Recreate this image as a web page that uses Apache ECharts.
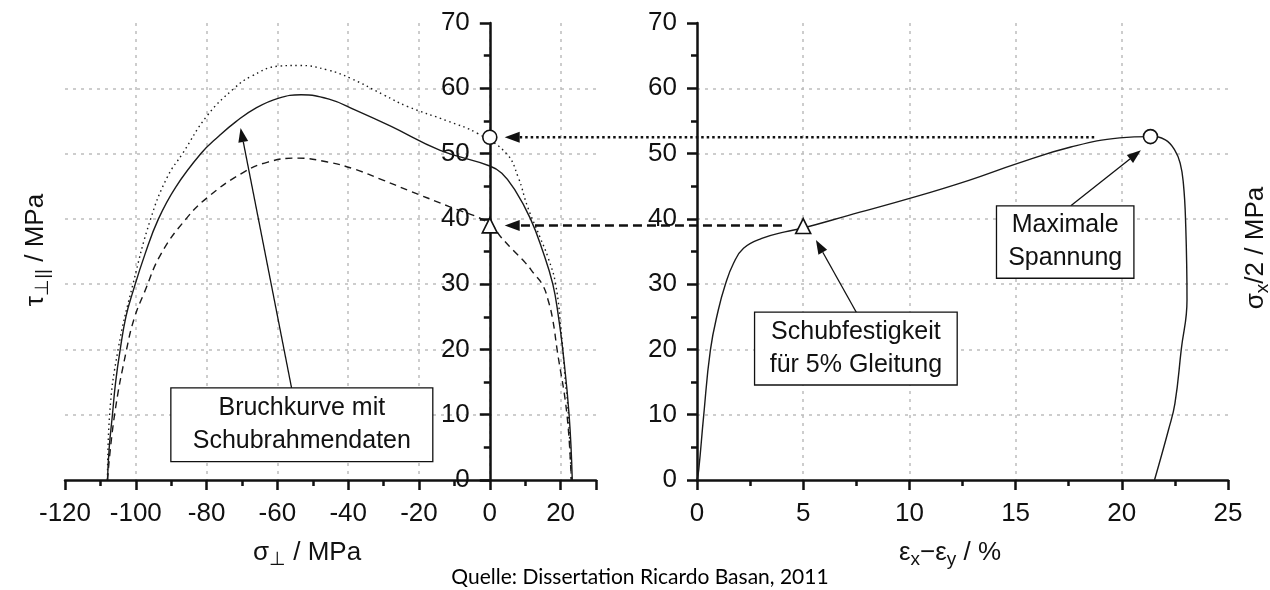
<!DOCTYPE html>
<html>
<head>
<meta charset="utf-8">
<script src="https://cdn.jsdelivr.net/npm/echarts@6/dist/echarts.min.js"></script>
<style>
  html, body { margin: 0; background: #fff; }
  #chart { width: 1270px; height: 590px; }
</style>
</head>
<body>
<div id="chart"></div>
<script>
// left panel: failure curves, [sigma_perp, tau] in MPa
const bruchSolid = [[-108,0],[-107.5,5],[-106.6,10],[-105.7,15],[-104.4,20],[-102.8,25],[-100.9,28.7],[-97.4,34.6],[-93.6,40],[-88.8,44.8],[-81.6,50],[-76.5,52.7],[-71.7,54.9],[-66,57],[-59.6,58.5],[-53.3,59],[-45.2,58.3],[-38.1,56.7],[-28,54.2],[-14,50.5],[0,48.1],[3.4,47],[7,44.5],[11.5,40],[15,35],[17.8,30],[19.4,25],[20.6,20],[22.4,10],[23.3,0]];
const bruchDotted = [[-108,0],[-107.4,10],[-105,20],[-100.8,30],[-95.8,40],[-91.1,46.4],[-86.8,50],[-79.7,55.9],[-72.2,60],[-67.5,61.8],[-59.5,63.4],[-53.8,63.5],[-45.8,62.8],[-39.2,61.5],[-30,59],[-23.2,57.2],[-12,55],[-3.5,53.1],[4.7,50],[8,46.4],[10.7,41.8],[14.1,37.3],[16.5,34],[18.6,30],[20.3,22],[21.2,16],[22.2,10],[23,0]];
const bruchDashed = [[-108,0],[-106,10],[-102.6,20],[-100.3,25],[-97.6,28.7],[-92.9,34.6],[-85.8,40],[-79.7,43.3],[-70.3,46.9],[-62.7,48.7],[-54.3,49.3],[-45.8,48.7],[-38.7,47.7],[-30,45.9],[-23.2,44.4],[-11.6,41.9],[0,39.3],[3,37.3],[6.6,35.2],[10,33.3],[12.5,31.6],[14.9,29.9],[16.5,27.5],[17.8,24.5],[19,20],[21.8,10],[23,0]];
// right panel: shear test curve, [eps_x - eps_y in %, sigma/2 in MPa]
const schubCurve = [[0,0],[0.08,1.5],[0.31,9.7],[0.63,19.9],[1.0,26],[1.33,29.9],[1.72,33.2],[2.19,35.5],[3.05,37],[4.14,38],[5,38.6],[7.1,40.5],[10.3,43.4],[12.8,45.9],[15.1,48.5],[17.6,51],[19.9,52.4],[21.35,52.6],[22.05,52.1],[22.5,50.5],[22.75,48.5],[22.9,45.4],[23,40],[23.07,27.6],[22.8,20],[22.5,11.7],[22.2,7.7],[21.54,0]];

const maxLeft = [0, 52.5], maxRight = [21.35, 52.6];
const g5Left = [0, 39], g5Right = [5, 38.9];

const leftX = { min: -120, max: 30, interval: 20 };
const rightX = { min: 0, max: 25, interval: 5 };
const yRange = { min: 0, max: 70, interval: 10 };

// annotation anchors (data coords)
const arrowMax = { from: [18.7, 52.5], to: [4.2, 52.5] };
const arrowG5 = { from: [4.0, 39], to: [4.2, 39] };
const noteBruch = { box: [[-90.1, 14.1], [-16.1, 2.8]], tail: [-56, 14.1], tip: [-70.4, 53.9], text: 'Bruchkurve mit\nSchubrahmendaten' };
const noteMax = { box: [[14.1, 42], [20.57, 30.9]], tail: [17.6, 42], tip: [20.9, 50.5], text: 'Maximale\nSpannung' };
const noteG5 = { box: [[2.71, 25.7], [12.25, 14.55]], tail: [7.5, 25.7], tip: [5.6, 36.75], text: 'Schubfestigkeit\nfür 5% Gleitung' };

const FONT = 'Liberation Sans';
const INK = '#111';
const GRID_W = 531;

function xAxisOf(grid, r) {
  return {
    type: 'value', gridIndex: grid, min: r.min, max: r.max, interval: r.interval,
    axisLine: { lineStyle: { color: INK, width: 2.5 } },
    axisTick: { length: 10, lineStyle: { color: INK, width: 2.5 } },
    minorTick: { show: true, splitNumber: 2, length: 6, lineStyle: { color: INK, width: 2.5 } },
    axisLabel: { fontFamily: FONT, fontSize: 26, color: INK, margin: 21, showMaxLabel: grid === 1 },
    splitLine: { show: true, showMinLine: false, showMaxLine: false, lineStyle: { color: '#bdbdbd', width: 1.5, type: [3, 5] } }
  };
}
function yAxisOf(grid, offset) {
  return {
    type: 'value', gridIndex: grid, min: yRange.min, max: yRange.max, interval: yRange.interval,
    offset: offset,
    axisLine: { onZero: false, lineStyle: { color: INK, width: 2.5 } },
    axisTick: { length: 10, lineStyle: { color: INK, width: 2.5 } },
    minorTick: { show: true, splitNumber: 2, length: 6, lineStyle: { color: INK, width: 2.5 } },
    axisLabel: { fontFamily: FONT, fontSize: 26, color: INK, margin: 20 },
    splitLine: { show: true, showMinLine: false, showMaxLine: false, lineStyle: { color: '#bdbdbd', width: 1.5, type: [3, 5] } }
  };
}
function curve(data, grid, type) {
  return {
    type: 'line', data: data, xAxisIndex: grid, yAxisIndex: grid,
    symbol: 'none', smooth: 0.45, silent: true, z: 3,
    lineStyle: { color: '#1a1a1a', width: 1.4, type: type }
  };
}
function marker(pt, grid, shape) {
  return {
    type: 'scatter', data: [pt], xAxisIndex: grid, yAxisIndex: grid,
    symbol: shape, symbolSize: shape === 'circle' ? 14 : 15, z: 6,
    itemStyle: { color: '#fff', opacity: 1, borderColor: INK, borderWidth: 1.6 }
  };
}

// left y axis sits at sigma = 0
const leftYOffset = -GRID_W * (0 - leftX.min) / (leftX.max - leftX.min);

const chart = echarts.init(document.getElementById('chart'));
chart.setOption({
  animation: false,
  grid: [
    { left: 65, top: 23, width: GRID_W, height: 457 },
    { left: 697, top: 23, width: GRID_W, height: 457 }
  ],
  xAxis: [xAxisOf(0, leftX), xAxisOf(1, rightX)],
  yAxis: [yAxisOf(0, leftYOffset), yAxisOf(1, 0)],
  series: [
    curve(bruchDotted, 0, [1.5, 3.5]),
    curve(bruchDashed, 0, [7, 5]),
    curve(bruchSolid, 0, 'solid'),
    curve(schubCurve, 1, 'solid'),
    marker(maxLeft, 0, 'circle'),
    marker(g5Left, 0, 'triangle'),
    marker(maxRight, 1, 'circle'),
    marker(g5Right, 1, 'triangle')
  ]
});

const p0 = d => chart.convertToPixel({ gridIndex: 0 }, d);
const p1 = d => chart.convertToPixel({ gridIndex: 1 }, d);

function arrow(a, b, dash, width, headLen, headHalf) {
  const dx = b[0] - a[0], dy = b[1] - a[1];
  const len = Math.sqrt(dx * dx + dy * dy);
  const ux = dx / len, uy = dy / len;
  const base = [b[0] - ux * headLen, b[1] - uy * headLen];
  return [
    { type: 'line', z: 20, shape: { x1: a[0], y1: a[1], x2: base[0], y2: base[1] },
      style: { stroke: INK, lineWidth: width, lineDash: dash } },
    { type: 'polygon', z: 20, shape: { points: [b,
        [base[0] - uy * headHalf, base[1] + ux * headHalf],
        [base[0] + uy * headHalf, base[1] - ux * headHalf]] },
      style: { fill: INK } }
  ];
}
function note(n, toPx) {
  const a = toPx(n.box[0]), b = toPx(n.box[1]);
  return [
    ...arrow(toPx(n.tail), toPx(n.tip), null, 1.3, 14, 5),
    { type: 'rect', z: 21, shape: { x: a[0], y: a[1], width: b[0] - a[0], height: b[1] - a[1] },
      style: { fill: '#fff', stroke: INK, lineWidth: 1.3 } },
    { type: 'text', z: 22, x: (a[0] + b[0]) / 2, y: (a[1] + b[1]) / 2,
      style: { text: n.text, fontFamily: FONT, fontSize: 25, lineHeight: 33, fill: INK, align: 'center', verticalAlign: 'middle' } }
  ];
}
const rich = {
  m: { fontFamily: FONT, fontSize: 26, fill: INK },
  s: { fontFamily: FONT, fontSize: 19, fill: INK, padding: [14, 0, 0, 0] }
};
function label(x, y, text, rot) {
  return { type: 'text', z: 22, x: x, y: y, rotation: rot || 0,
    style: { text: text, rich: rich, align: 'center', verticalAlign: 'middle' } };
}

chart.setOption({
  graphic: [
    ...arrow(p1(arrowMax.from), p0(arrowMax.to), [2.5, 3], 2.5, 15, 5.5),
    ...arrow(p1(arrowG5.from), p0(arrowG5.to), [9, 5], 2.5, 15, 5.5),
    ...note(noteBruch, p0),
    ...note(noteMax, p1),
    ...note(noteG5, p1),
    label(307, 553, '{m|σ}{s|⊥}{m| / MPa}'),
    label(950, 553, '{m|ε}{s|x}{m|−ε}{s|y}{m| / %}'),
    label(36, 250, '{m|τ}{s|⊥||}{m| / MPa}', Math.PI / 2),
    label(1256, 248, '{m|σ}{s|x}{m|/2 / MPa}', Math.PI / 2),
    { type: 'text', z: 22, x: 640, y: 577,
      style: { text: 'Quelle: Dissertation Ricardo Basan, 2011', fontFamily: 'Lato', fontSize: 21, fill: '#000', align: 'center', verticalAlign: 'middle' } }
  ]
});
</script>
</body>
</html>
